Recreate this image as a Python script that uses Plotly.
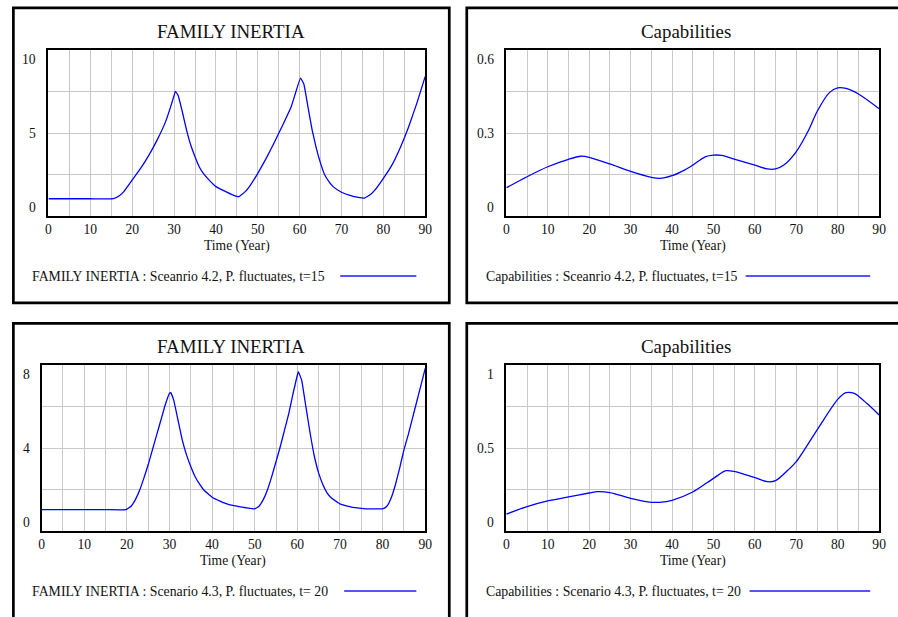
import plotly.graph_objects as go

W, H = 898, 617

# ---------------- data ----------------
fi15_t = [0, 5, 10, 15.5, 17, 18, 20, 22, 24, 26, 28, 30, 30.3, 31, 32, 33, 34, 35, 36, 37, 38, 40,
          42, 44, 45, 45.5, 47, 48, 50, 52, 54, 56, 58, 60.2, 61, 62, 63, 64, 65, 66, 67, 68, 70,
          72, 74, 75.5, 77, 78, 80, 82, 84, 86, 88, 90]
fi15_v = [1.04, 1.04, 1.04, 1.04, 1.24, 1.47, 2.17, 2.87, 3.67, 4.6, 5.7, 7.25, 7.51, 7.25, 6.25,
          5.16, 4.26, 3.57, 2.97, 2.57, 2.27, 1.77, 1.51, 1.27, 1.18, 1.16, 1.47, 1.77, 2.57, 3.47,
          4.46, 5.5, 6.59, 8.31, 7.95, 6.55, 5.16, 4.06, 3.17, 2.47, 2.07, 1.77, 1.43, 1.24, 1.12,
          1.08, 1.31, 1.57, 2.27, 3.05, 4.1, 5.35, 6.8, 8.41]

cap15_t = [0, 5, 10, 15, 18, 20, 25, 30, 35, 37, 40, 43, 45, 48, 50, 52, 55, 60, 63, 65, 67, 70, 73,
           75, 78, 80, 82, 85, 90]
cap15_v = [0.102, 0.142, 0.178, 0.205, 0.216, 0.212, 0.188, 0.161, 0.140, 0.136, 0.146, 0.166, 0.184,
           0.214, 0.220, 0.219, 0.206, 0.184, 0.170, 0.170, 0.184, 0.233, 0.311, 0.377, 0.446, 0.463,
           0.461, 0.441, 0.388]

fi20_t = [0, 5, 10, 15, 19.8, 21, 22, 23, 24, 25, 26, 27, 28, 29, 30, 30.3, 31, 32, 33, 34, 35, 36,
          37, 38, 40, 42, 44, 46, 48, 50, 51, 52, 53, 54, 55, 56, 57, 58, 59, 60, 60.2, 61, 62, 63,
          64, 65, 66, 67, 68, 70, 72, 74, 76, 80, 81, 82, 83, 84, 85, 86, 87, 88, 89, 90]
fi20_v = [1.03, 1.03, 1.03, 1.03, 1.03, 1.19, 1.51, 1.96, 2.55, 3.19, 3.91, 4.63, 5.35, 6.07, 6.63,
          6.67, 6.31, 5.35, 4.39, 3.67, 3.11, 2.63, 2.28, 1.99, 1.63, 1.43, 1.27, 1.19, 1.12, 1.07,
          1.19, 1.51, 1.99, 2.63, 3.35, 4.07, 4.87, 5.67, 6.63, 7.52, 7.68, 7.28, 5.99, 4.71, 3.59,
          2.79, 2.23, 1.83, 1.59, 1.31, 1.19, 1.11, 1.07, 1.07, 1.19, 1.59, 2.23, 3.03, 3.91, 4.63,
          5.43, 6.23, 7.03, 7.84]

cap20_t = [0, 5, 10, 15, 20, 22, 25, 30, 35, 37, 40, 45, 50, 53, 55, 60, 63, 65, 68, 70, 75, 80, 82,
           84, 87, 90]
cap20_v = [0.102, 0.147, 0.181, 0.205, 0.229, 0.237, 0.231, 0.197, 0.173, 0.173, 0.185, 0.235, 0.317,
           0.363, 0.359, 0.321, 0.297, 0.303, 0.367, 0.418, 0.608, 0.793, 0.833, 0.829, 0.769, 0.699]

x_ticks = [0, 10, 20, 30, 40, 50, 60, 70, 80, 90]

panels = [
    dict(title="FAMILY INERTIA", t=fi15_t, v=fi15_v, ymax=10, ylabels=["0", "5", "10"],
         legend="FAMILY INERTIA : Sceanrio 4.2, P. fluctuates, t=15", smooth=0.3),
    dict(title="Capabilities", t=cap15_t, v=cap15_v, ymax=0.6, ylabels=["0", "0.3", "0.6"],
         legend="Capabilities : Sceanrio 4.2, P. fluctuates, t=15", smooth=0.8),
    dict(title="FAMILY INERTIA", t=fi20_t, v=fi20_v, ymax=8, ylabels=["0", "4", "8"],
         legend="FAMILY INERTIA : Scenario 4.3, P. fluctuates, t= 20", smooth=0.3),
    dict(title="Capabilities", t=cap20_t, v=cap20_v, ymax=1, ylabels=["0", "0.5", "1"],
         legend="Capabilities : Scenario 4.3, P. fluctuates, t= 20", smooth=0.8),
]

# ---------------- layout geometry (pixels) ----------------
plot_boxes = [(46, 427, 50, 216), (509, 886, 50, 216), (39, 427, 365, 531), (509, 886, 365, 531)]
panel_boxes = [(10.5, 451.3, 7.8, 302.8), (469, 920, 7.8, 302.8),
               (10.5, 451.3, 323.3, 640), (469, 920, 323.3, 640)]
title_x = [231, 691, 231, 691]
legend_text_x = [27, 486, 27, 486]
legend_line = [(341, 418), (751, 877), (345, 418), (755, 877)]

FONT = "Liberation Serif, Times New Roman, serif"
TXT = "#111111"


def px(x):
    return x / W


def py(y):
    return 1 - y / H


fig = go.Figure()
annotations = []
shapes = []

for i, p in enumerate(panels):
    n = "" if i == 0 else str(i + 1)
    xa, ya = "x" + n, "y" + n
    x0, x1, y0, y1 = plot_boxes[i]
    fig.add_trace(go.Scatter(x=p["t"], y=p["v"], mode="lines", xaxis=xa, yaxis=ya,
                             line=dict(color="#0000ff", width=1.3, shape="spline",
                                       smoothing=p["smooth"]),
                             showlegend=False, hoverinfo="skip"))
    ymax = p["ymax"]
    fig.layout["xaxis" + n] = dict(
        domain=[px(x0), px(x1)], range=[0, 90], anchor=ya,
        tickvals=x_ticks, ticktext=[str(v) for v in x_ticks],
        showgrid=True, gridcolor="#c8c8c8", gridwidth=1,
        minor=dict(dtick=5, tick0=0, showgrid=True, gridcolor="#c8c8c8", gridwidth=1),
        showline=True, linecolor="black", linewidth=2, mirror=True,
        ticks="", zeroline=False, tickfont=dict(family=FONT, size=13.6, color=TXT),
        fixedrange=True,
    )
    fig.layout["yaxis" + n] = dict(
        domain=[py(y1), py(y0)], range=[0, ymax], anchor=xa,
        tickvals=[0, ymax / 4, ymax / 2, 3 * ymax / 4, ymax],
        showticklabels=False, showgrid=True, gridcolor="#c8c8c8", gridwidth=1,
        showline=True, linecolor="black", linewidth=2, mirror=True,
        ticks="", zeroline=False, fixedrange=True,
    )
    # y tick labels (Vensim-style: top/bottom labels kept inside the range)
    for val, lab, anc, sh in [(0, p["ylabels"][0], "bottom", -1),
                              (ymax / 2, p["ylabels"][1], "middle", 0),
                              (ymax, p["ylabels"][2], "top", 0)]:
        annotations.append(dict(x=0, xref=xa + " domain", y=val, yref=ya, text=lab,
                                showarrow=False, xanchor="right", yanchor=anc, xshift=-10,
                                yshift=sh, font=dict(family=FONT, size=13.6, color=TXT)))
    # axis title
    annotations.append(dict(x=(x0 + x1) / 2 / W, xref="paper", y=py(y1 + 30), yref="paper",
                            text="Time (Year)", showarrow=False, xanchor="center",
                            yanchor="middle", font=dict(family=FONT, size=13.6, color=TXT)))
    # panel title
    annotations.append(dict(x=px(title_x[i]), xref="paper", y=py(y0 - 19), yref="paper",
                            text=p["title"], showarrow=False, xanchor="center",
                            yanchor="middle", font=dict(family=FONT, size=18.9, color=TXT)))
    # legend text + sample line
    ly = y1 + 60
    annotations.append(dict(x=px(legend_text_x[i]), xref="paper", y=py(ly), yref="paper",
                            text=p["legend"], showarrow=False, xanchor="left",
                            yanchor="middle", font=dict(family=FONT, size=13.8, color=TXT)))
    lx0, lx1 = legend_line[i]
    shapes.append(dict(type="line", xref="paper", yref="paper", x0=px(lx0), x1=px(lx1),
                       y0=py(ly), y1=py(ly), line=dict(color="#5555ff", width=1.8)))
    # panel border
    bx0, bx1, by0, by1 = panel_boxes[i]
    shapes.append(dict(type="rect", xref="paper", yref="paper", x0=px(bx0), x1=px(bx1),
                       y0=py(by1), y1=py(by0), line=dict(color="black", width=2.7),
                       fillcolor="rgba(0,0,0,0)", layer="below"))

fig.update_layout(width=W, height=H, margin=dict(l=0, r=0, t=0, b=0),
                  paper_bgcolor="white", plot_bgcolor="white",
                  annotations=annotations, shapes=shapes, showlegend=False,
                  font=dict(family=FONT, size=13.6, color=TXT))

fig.write_html("out.html", config=dict(displayModeBar=False))
